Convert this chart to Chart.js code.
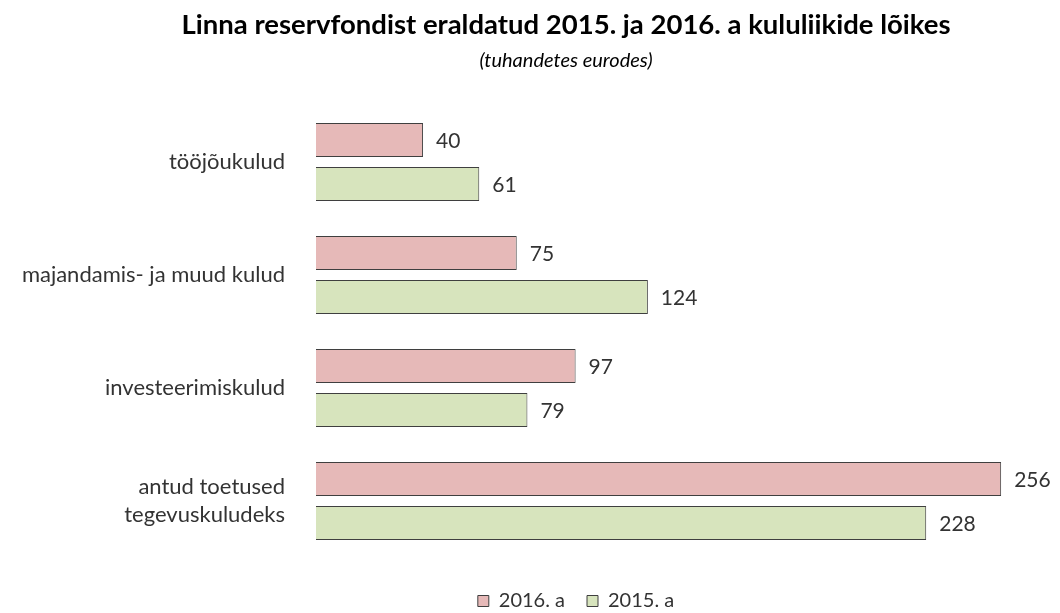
<!DOCTYPE html>
<html lang="et"><head>
<meta charset="utf-8">
<title>Linna reservfond</title>
<style>
* { margin: 0; padding: 0 }
body { background: #fff; }
#ChartBox { width: 1060px; height: 613px; }
</style>
<script src="https://cdn.jsdelivr.net/npm/chart.js"></script>
<script>

const categories = [
    "tööjõukulud",
    "majandamis- ja muud kulud",
    "investeerimiskulud",
    ["antud toetused", "tegevuskuludeks"],
];
const values2016 = [40, 75, 97, 256];
const values2015 = [61, 124, 79, 228];
const seriesNames = ["2016. a", "2015. a"];
const X_MAX = 275;

const FONT = "Lato, 'Open Sans', sans-serif";
const TEXT_COLOR = "#333333";
const BORDER_COLOR = "#3f3f3f";

function get(id) {
    return document.getElementById(id);
}

// numbers printed just past the end of each bar
const valueLabels = {
    id: "valueLabels",
    afterDatasetsDraw(chart) {
        const ctx = chart.ctx;
        ctx.save();
        ctx.font = "21px " + FONT;
        ctx.fillStyle = TEXT_COLOR;
        ctx.textAlign = "left";
        ctx.textBaseline = "middle";
        chart.data.datasets.forEach((ds, i) => {
            chart.getDatasetMeta(i).data.forEach((bar, j) => {
                ctx.fillText(ds.data[j], bar.x + 13, bar.y + 1);
            });
        });
        ctx.restore();
    },
};

// title and legend sit a bit right of the canvas centre
const TITLE_SHIFT = 36;
const LEGEND_SHIFT = 46;
const shiftBoxes = {
    id: "shiftBoxes",
    afterLayout(chart) {
        chart.boxes.forEach(box => {
            if (box.axis !== undefined) return;
            const dx = box.legendItems ? LEGEND_SHIFT : TITLE_SHIFT;
            box.left += dx;
            box.right += dx;
        });
    },
};

function bodyOnLoad() {
    new Chart(get("ReserveChart"), {
        type: "bar",
        data: {
            labels: categories,
            datasets: [{
                label: seriesNames[0],
                data: values2016,
                backgroundColor: "#e6b9b8",
                borderColor: BORDER_COLOR,
                borderWidth: 1,
            },{
                label: seriesNames[1],
                data: values2015,
                backgroundColor: "#d7e4bd",
                borderColor: BORDER_COLOR,
                borderWidth: 1,
            }],
        },
        options: {
            indexAxis: "y",
            responsive: true,
            maintainAspectRatio: false,
            animation: false,
            devicePixelRatio: 1,
            categoryPercentage: 0.78,
            barPercentage: 0.77,
            layout: {
                padding: { left: 8, right: 8, top: 0, bottom: -8 },
            },
            scales: {
                x: {
                    min: 0,
                    max: X_MAX,
                    grid: { display: false },
                    border: { display: false },
                    ticks: { display: false },
                    afterFit: function(scale) { scale.height = 11.5; },
                },
                y: {
                    grid: { display: false },
                    border: { display: false },
                    ticks: {
                        padding: 23,
                        color: TEXT_COLOR,
                        font: { family: FONT, size: 22, lineHeight: 1.25 },
                    },
                    afterFit: function(scale) { scale.width = 308; },
                },
            },
            plugins: {
                title: {
                    display: true,
                    text: "Linna reservfondist eraldatud 2015. ja 2016. a kululiikide lõikes",
                    color: "#000",
                    font: { family: FONT, size: 27.5, weight: "bold", lineHeight: 1.2 },
                    padding: { top: 9, bottom: 0 },
                },
                subtitle: {
                    display: true,
                    text: "(tuhandetes eurodes)",
                    color: "#000",
                    font: { family: FONT, size: 20, style: "italic", lineHeight: 1.2 },
                    padding: { top: 7, bottom: 32.5 },
                },
                legend: {
                    position: "bottom",
                    labels: {
                        boxWidth: 11,
                        boxHeight: 11,
                        padding: 22,
                        color: TEXT_COLOR,
                        font: { family: FONT, size: 20 },
                    },
                },
                tooltip: { enabled: false },
            },
        },
        plugins: [valueLabels, shiftBoxes],
    });
}

</script>
</head><body onload="bodyOnLoad()">
<div id="ChartBox"><canvas id="ReserveChart"></canvas></div>
</body></html>
